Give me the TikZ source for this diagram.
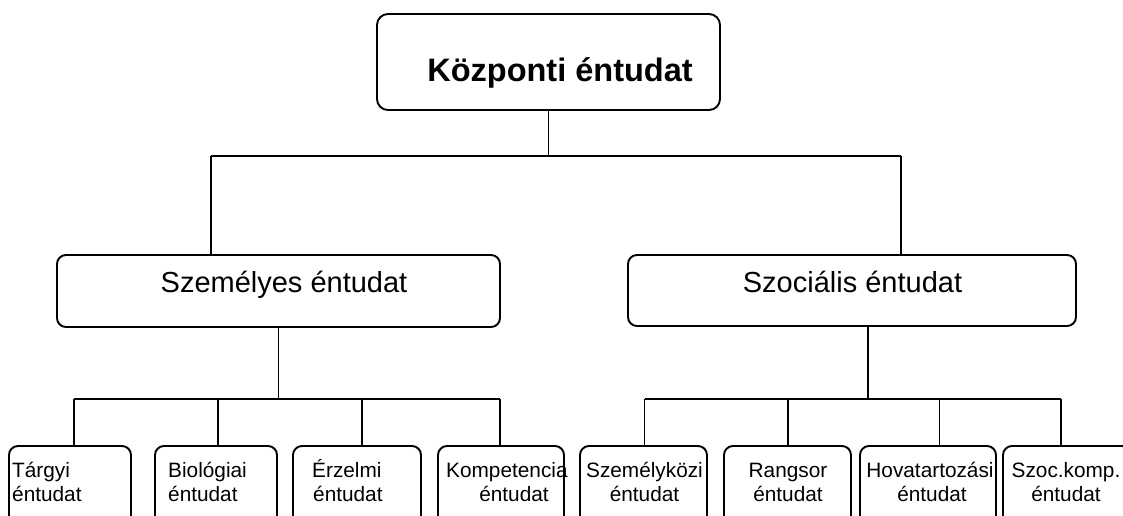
\documentclass[tikz,border=0pt]{standalone}
\usepackage{fontspec}
\setmainfont{Liberation Sans}
\begin{document}
\begin{tikzpicture}[x=1pt,y=-1pt,
  box/.style={draw, line width=1.9pt, rounded corners=9pt, inner sep=0pt},
  ln/.style={line width=1.9pt},
  toplbl/.style={font=\bfseries\fontsize{32.5}{39}\selectfont, inner sep=0pt, anchor=base},
  midlbl/.style={font=\fontsize{29}{35}\selectfont, inner sep=0pt, anchor=base},
  lbl/.style={font=\fontsize{20.8}{25}\selectfont, inner sep=0pt, anchor=base},
  lbll/.style={lbl, anchor=base west}]
\useasboundingbox (0,0) rectangle (1123,516);
\clip (0,0) rectangle (1123,516);
% boxes
\node[box, rounded corners=11pt, minimum width=343pt, minimum height=96pt] (top) at (548.5,62) {};
\node[box, minimum width=443pt, minimum height=72pt] (pers) at (278.5,291) {};
\node[box, minimum width=448pt, minimum height=71pt] (soc) at (852,290.5) {};
\node[box, minimum width=122pt, minimum height=84pt] (b1) at (70,488) {};
\node[box, minimum width=122pt, minimum height=84pt] (b2) at (216,488) {};
\node[box, minimum width=128pt, minimum height=84pt] (b3) at (357,488) {};
\node[box, minimum width=126pt, minimum height=84pt] (b4) at (501,488) {};
\node[box, minimum width=127pt, minimum height=84pt] (b5) at (643.5,488) {};
\node[box, minimum width=127pt, minimum height=84pt] (b6) at (787.5,488) {};
\node[box, minimum width=136pt, minimum height=84pt] (b7) at (928,488) {};
\node[box, minimum width=128pt, minimum height=84pt] (b8) at (1067,488) {};
% labels
\node[toplbl] (ttop) at (560,82) {Központi éntudat};
\node[midlbl] (tpers) at (284,292) {Személyes éntudat};
\node[midlbl] (tsoc) at (852.5,292) {Szociális éntudat};
\node[lbll] (t1a) at (12,477) {Tárgyi};
\node[lbll] (t1b) at (12,501) {éntudat};
\node[lbll] (t2a) at (168,477) {Biológiai};
\node[lbll] (t2b) at (168,501) {éntudat};
\node[lbll] (t3a) at (312,477) {Érzelmi};
\node[lbll] (t3b) at (313,501) {éntudat};
\node[lbll] (t4a) at (446,477) {Kompetencia};
\node[lbl] (t4b) at (514,501) {éntudat};
\node[lbl] (t5a) at (644.5,477) {Személyközi};
\node[lbl] (t5b) at (644.5,501) {éntudat};
\node[lbl] (t6a) at (788,477) {Rangsor};
\node[lbl] (t6b) at (788,501) {éntudat};
\node[lbl] (t7a) at (930,477) {Hovatartozási};
\node[lbl] (t7b) at (932,501) {éntudat};
\node[lbl] (t8a) at (1066,477) {Szoc.komp.};
\node[lbl] (t8b) at (1066,501) {éntudat};
% junction coordinates
\coordinate (j0) at (548.5,156);
\coordinate (jl) at (211,156);
\coordinate (jr) at (901,156);
\coordinate (hl) at (0,399);
\coordinate (c1) at (74,399);
\coordinate (c2) at (218,399);
\coordinate (c3) at (362,399);
\coordinate (c4) at (500,399);
\coordinate (sd) at (868,399);
\coordinate (d1) at (644.5,399);
\coordinate (d2) at (788,399);
\coordinate (d3) at (939.5,399);
\coordinate (d4) at (1061,399);
% connectors
\draw[ln] (top.south) -- (j0);
\draw[ln] (jl) -- (jr);
\draw[ln] (jl) -- (jl |- pers.north);
\draw[ln] (jr) -- (jr |- soc.north);
\draw[ln] (pers.south) -- (pers.south |- hl);
\draw[ln] (c1) -- (c4);
\draw[ln] (c1) -- (c1 |- b1.north);
\draw[ln] (c2) -- (c2 |- b2.north);
\draw[ln] (c3) -- (c3 |- b3.north);
\draw[ln] (c4) -- (c4 |- b4.north);
\draw[ln] (sd |- soc.south) -- (sd);
\draw[ln] (d1) -- (d4);
\draw[ln] (d1) -- (d1 |- b5.north);
\draw[ln] (d2) -- (d2 |- b6.north);
\draw[ln] (d3) -- (d3 |- b7.north);
\draw[ln] (d4) -- (d4 |- b8.north);
\end{tikzpicture}
\end{document}
